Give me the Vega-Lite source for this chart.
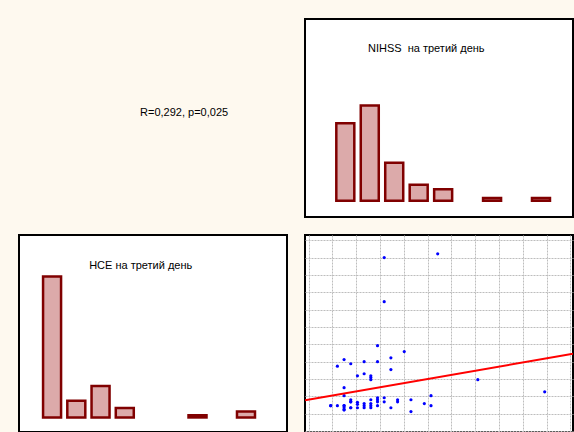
{
  "$schema": "https://vega.github.io/schema/vega-lite/v6.json",
  "background": "#fef9ef",
  "padding": {"left": 18, "top": 18, "right": 2, "bottom": 1},
  "bounds": "flush",
  "spacing": 18,
  "columns": 2,
  "config": {
    "view": {"stroke": "#000000", "strokeWidth": 2, "fill": "#ffffff"},
    "font": "Liberation Sans",
    "text": {"font": "Liberation Sans", "fontSize": 11, "color": "#000000"}
  },
  "datasets": {
    "nihss_hist": [
      {"bin_index": 1, "count": 18},
      {"bin_index": 2, "count": 22},
      {"bin_index": 3, "count": 9},
      {"bin_index": 4, "count": 4},
      {"bin_index": 5, "count": 3},
      {"bin_index": 7, "count": 1},
      {"bin_index": 9, "count": 1}
    ],
    "nse_hist": [
      {"bin_index": 1, "count": 39},
      {"bin_index": 2, "count": 5},
      {"bin_index": 3, "count": 9},
      {"bin_index": 4, "count": 3},
      {"bin_index": 7, "count": 1},
      {"bin_index": 9, "count": 2}
    ],
    "points": [
      {"nihss": 11, "nse": 50.0},
      {"nihss": 19, "nse": 51.1},
      {"nihss": 11, "nse": 37.3},
      {"nihss": 10, "nse": 24.6},
      {"nihss": 14, "nse": 22.9},
      {"nihss": 12, "nse": 21.1},
      {"nihss": 5, "nse": 20.6},
      {"nihss": 8, "nse": 20.0},
      {"nihss": 10, "nse": 20.0},
      {"nihss": 6, "nse": 19.4},
      {"nihss": 4, "nse": 18.7},
      {"nihss": 12, "nse": 17.7},
      {"nihss": 8, "nse": 16.5},
      {"nihss": 7, "nse": 15.9},
      {"nihss": 9, "nse": 15.9},
      {"nihss": 9, "nse": 15.4},
      {"nihss": 9, "nse": 14.8},
      {"nihss": 25, "nse": 14.8},
      {"nihss": 5, "nse": 12.5},
      {"nihss": 35, "nse": 11.3},
      {"nihss": 5, "nse": 10.2},
      {"nihss": 18, "nse": 10.2},
      {"nihss": 3, "nse": 7.3},
      {"nihss": 4, "nse": 7.3},
      {"nihss": 5, "nse": 7.3},
      {"nihss": 5, "nse": 6.7},
      {"nihss": 5, "nse": 6.1},
      {"nihss": 6, "nse": 9.0},
      {"nihss": 6, "nse": 8.4},
      {"nihss": 6, "nse": 6.7},
      {"nihss": 7, "nse": 8.3},
      {"nihss": 7, "nse": 7.7},
      {"nihss": 7, "nse": 6.7},
      {"nihss": 8, "nse": 7.9},
      {"nihss": 8, "nse": 6.7},
      {"nihss": 9, "nse": 9.0},
      {"nihss": 9, "nse": 7.9},
      {"nihss": 9, "nse": 7.3},
      {"nihss": 9, "nse": 6.7},
      {"nihss": 10, "nse": 9.6},
      {"nihss": 10, "nse": 9.0},
      {"nihss": 10, "nse": 8.4},
      {"nihss": 10, "nse": 7.3},
      {"nihss": 11, "nse": 9.6},
      {"nihss": 11, "nse": 8.4},
      {"nihss": 12, "nse": 6.7},
      {"nihss": 13, "nse": 9.0},
      {"nihss": 13, "nse": 8.4},
      {"nihss": 15, "nse": 9.0},
      {"nihss": 15, "nse": 5.6},
      {"nihss": 17, "nse": 7.9},
      {"nihss": 18, "nse": 7.3},
      {"nihss": 3, "nse": 7.3},
      {"nihss": 5, "nse": 7.3},
      {"nihss": 6, "nse": 8.4},
      {"nihss": 6, "nse": 6.7},
      {"nihss": 5, "nse": 6.1},
      {"nihss": 8, "nse": 7.3}
    ],
    "fit": [
      {"nihss": -0.843, "nse": 8.85},
      {"nihss": 39.23, "nse": 22.29}
    ]
  },
  "concat": [
    {
      "width": 268,
      "height": 198,
      "view": {"stroke": null, "fill": null},
      "data": {"values": [{"label": "R=0,292, p=0,025"}]},
      "mark": {"type": "text", "align": "center", "baseline": "middle", "fontSize": 11, "font": "Liberation Sans", "color": "#000000"},
      "encoding": {
        "x": {"datum": 0.616, "type": "quantitative", "scale": {"domain": [0, 1], "nice": false, "padding": 0}, "axis": null},
        "y": {"datum": 0.524, "type": "quantitative", "scale": {"domain": [0, 1], "nice": false, "padding": 0}, "axis": null},
        "text": {"field": "label", "type": "nominal"}
      }
    },
    {
      "width": 268,
      "height": 198,
      "layer": [
        {
          "data": {"name": "nihss_hist"},
          "mark": {"type": "bar", "orient": "vertical", "width": 18, "fill": "#dcaaaa", "stroke": "#800000", "strokeWidth": 2.5},
          "encoding": {
            "x": {"field": "bin_index", "type": "quantitative", "scale": {"domain": [-0.648, 10.309], "nice": false, "zero": false, "padding": 0}, "axis": null},
            "y": {"field": "count", "type": "quantitative", "scale": {"domain": [-3.285, 41.61], "nice": false, "zero": false, "padding": 0}, "axis": null},
            "y2": {"datum": 0.4}
          }
        },
        {
          "data": {"values": [{"label": "NIHSS\u00a0 на третий день"}]},
          "mark": {"type": "text", "align": "center", "baseline": "middle", "fontSize": 11, "font": "Liberation Sans", "color": "#000000"},
          "encoding": {
            "x": {"datum": 4.311, "type": "quantitative"},
            "y": {"datum": 34.8, "type": "quantitative"},
            "text": {"field": "label", "type": "nominal"}
          }
        }
      ]
    },
    {
      "width": 268,
      "height": 197,
      "layer": [
        {
          "data": {"name": "nse_hist"},
          "mark": {"type": "bar", "orient": "vertical", "width": 18, "fill": "#dcaaaa", "stroke": "#800000", "strokeWidth": 2.5},
          "encoding": {
            "x": {"field": "bin_index", "type": "quantitative", "scale": {"domain": [-0.364, 10.692], "nice": false, "zero": false, "padding": 0}, "axis": null},
            "y": {"field": "count", "type": "quantitative", "scale": {"domain": [-3.586, 50.387], "nice": false, "zero": false, "padding": 0}, "axis": null},
            "y2": {"datum": 0.4}
          }
        },
        {
          "data": {"values": [{"label": "НСЕ на третий день"}]},
          "mark": {"type": "text", "align": "center", "baseline": "middle", "fontSize": 11, "font": "Liberation Sans", "color": "#000000"},
          "encoding": {
            "x": {"datum": 4.657, "type": "quantitative"},
            "y": {"datum": 41.89, "type": "quantitative"},
            "text": {"field": "label", "type": "nominal"}
          }
        }
      ]
    },
    {
      "width": 268,
      "height": 197,
      "layer": [
        {
          "data": {"name": "points"},
          "mark": {"type": "point", "filled": true, "size": 10, "color": "#0000ff", "opacity": 1, "strokeWidth": 0},
          "encoding": {
            "x": {
              "field": "nihss", "type": "quantitative",
              "scale": {"domain": [-0.843, 39.23], "nice": false, "zero": false, "padding": 0},
              "axis": {"values": [-0.29, 3.266, 6.82, 10.38, 13.93, 17.49, 21.04, 24.6, 28.16, 31.71, 35.27, 38.82], "tickCount": 30, "grid": true, "labels": false, "ticks": false, "domain": false, "title": null, "labelOverlap": false, "gridColor": "#bdbdbd", "gridDash": [2, 1], "gridWidth": 1, "gridOpacity": 1}
            },
            "y": {
              "field": "nse", "type": "quantitative",
              "scale": {"domain": [-0.288, 56.52], "nice": false, "zero": false, "padding": 0},
              "axis": {"values": [0, 5, 10, 15, 20, 25, 30, 35, 40, 45, 50, 55], "tickCount": 30, "grid": true, "labels": false, "ticks": false, "domain": false, "title": null, "labelOverlap": false, "gridColor": "#bdbdbd", "gridDash": [2, 1], "gridWidth": 1, "gridOpacity": 1}
            }
          }
        },
        {
          "data": {"name": "fit"},
          "mark": {"type": "line", "color": "#ff0000", "strokeWidth": 2, "clip": true},
          "encoding": {
            "x": {"field": "nihss", "type": "quantitative"},
            "y": {"field": "nse", "type": "quantitative"}
          }
        }
      ]
    }
  ]
}
